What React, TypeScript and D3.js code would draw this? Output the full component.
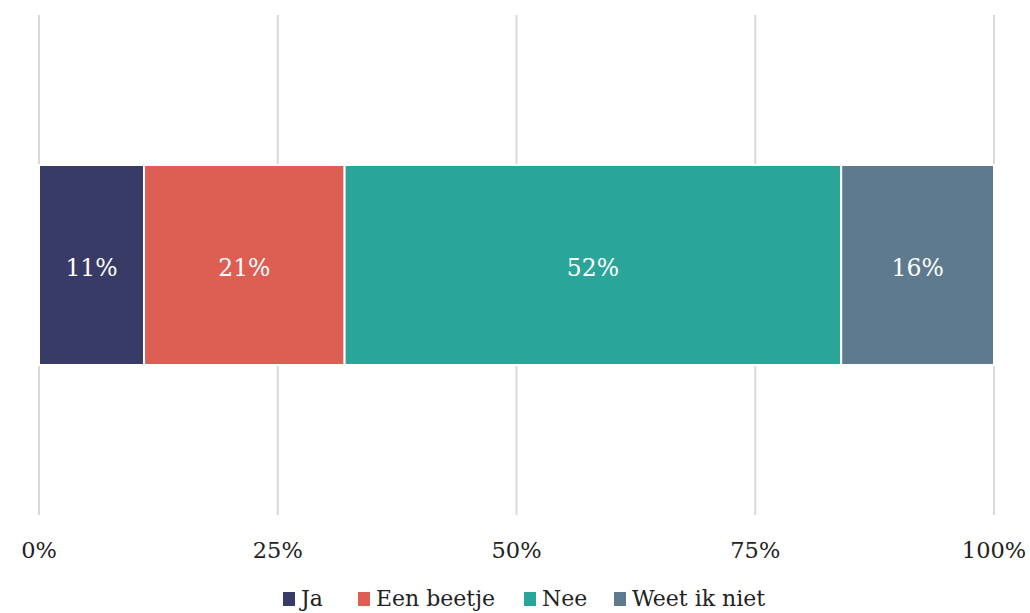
import React from "react";
import * as d3 from "d3";

const categories = ["Ja", "Een beetje", "Nee", "Weet ik niet"];
const values = [11, 21, 52, 16];
const colors = ["#383b65", "#dd5e52", "#2aa59a", "#5e7a8e"];
const ticks = [0, 25, 50, 75, 100];

const W = 1030, H = 613;
const FONT = "'DejaVu Serif', serif";

export default function App() {
  const x = d3.scaleLinear().domain([0, 100]).range([39, 994]);
  const starts = d3.cumsum([0, ...values]);
  const barTop = 165, barH = 200;
  const legendX = [283, 358, 524, 614];
  return (
    <svg width={W} height={H} style={{ position: "absolute", left: 0, top: 0, background: "#fff" }} fontFamily={FONT}>
      {ticks.map((t) => (
        <g key={t}>
          <line x1={x(t)} x2={x(t)} y1={15} y2={515} stroke="#d9d9d9" strokeWidth={2} />
          <text x={x(t)} y={558} textAnchor="middle" fontSize={22.5} fill="#222">{t}%</text>
        </g>
      ))}
      {values.map((v, i) => (
        <g key={i}>
          <rect x={x(starts[i])} y={barTop} width={x(starts[i] + v) - x(starts[i])} height={barH} fill={colors[i]} stroke="#fff" strokeWidth={2} />
          <text x={(x(starts[i]) + x(starts[i] + v)) / 2} y={barTop + barH / 2 + 11} textAnchor="middle" fontSize={23.5} fill="#fff">{v}%</text>
        </g>
      ))}
      {categories.map((c, i) => (
        <g key={c}>
          <rect x={legendX[i]} y={592} width={12} height={14} fill={colors[i]} />
          <text x={legendX[i] + 18} y={606} fontSize={22} fill="#222">{c}</text>
        </g>
      ))}
    </svg>
  );
}
